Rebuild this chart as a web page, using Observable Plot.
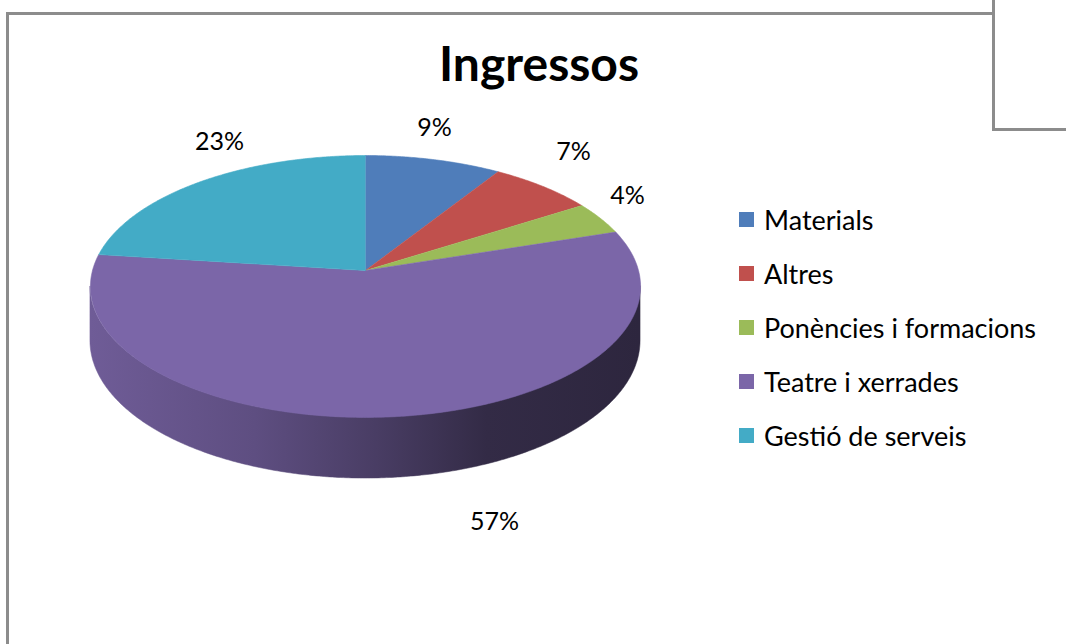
<!DOCTYPE html>
<html>
<head>
<meta charset="utf-8">
<script src="https://cdn.jsdelivr.net/npm/d3@7"></script>
<script src="https://cdn.jsdelivr.net/npm/@observablehq/plot@0.6"></script>
<style>
  body { margin: 0; background: #fff; }
  #wrap { position: relative; width: 1066px; height: 644px; overflow: hidden; font-family: Lato, "Noto Sans", sans-serif; }
  .box { position: absolute; border: 3px solid #8c8c8c; background: #fff; box-sizing: border-box; }
  #chart { position: absolute; left: 0; top: 0; }
  #title { position: absolute; left: 0; width: 1078px; top: 39px; text-align: center; font-weight: 700; font-size: 48px; line-height: 1; color: #000; }
  .leg { position: absolute; left: 739px; height: 40px; display: flex; align-items: center; font-size: 27px; color: #000; white-space: nowrap; }
  .sw { width: 15px; height: 15px; margin-right: 10px; flex: none; }
</style>
</head>
<body>
<div id="wrap">
  <div class="box" style="left:6px;top:12px;width:1300px;height:900px;"></div>
  <div id="chart"></div>
  <div class="box" style="left:992px;top:-20px;width:200px;height:151px;"></div>
  <div id="title">Ingressos</div>
  <div id="legend"></div>
</div>
<script>
// ---- data ----
const names = ["Materials", "Altres", "Ponències i formacions", "Teatre i xerrades", "Gestió de serveis"];
const values = [9, 7, 4, 57, 23];
const colors = ["#4f7dba", "#c0504d", "#9bbb59", "#7b66a8", "#43abc6"];
const pctLabels = ["9%", "7%", "4%", "57%", "23%"];
// label anchor points in pie units (projected), as placed by the original layout
const labelX = [0.253, 0.762, 0.960, 0.473, -0.535];
const labelY = [-1.101, -0.922, -0.574, 1.953, -1.000];

// ---- 3D pie geometry (perspective tilt) ----
const p = 0.122;      // perspective factor
const D = 0.416;      // thickness of the pie
const proj = (u, v) => { const k = 1 - p * v; return {X: u / k, Y: v / k, Yb: (v + D) / k}; };

const total = d3.sum(values);
let acc = 0;
const slices = values.map((val, i) => {
  const a0 = acc / total * 360; acc += val; const a1 = acc / total * 360;
  return {i, name: names[i], a0, a1};
});

const topPts = [];
for (const s of slices) {
  topPts.push({name: s.name, ...proj(0, 0)});
  const n = Math.max(2, Math.ceil((s.a1 - s.a0) / 0.5));
  for (let j = 0; j <= n; j++) {
    const t = (s.a0 + (s.a1 - s.a0) * j / n) * Math.PI / 180;
    topPts.push({name: s.name, ...proj(Math.sin(t), -Math.cos(t))});
  }
}

const tR = Math.acos(-p) * 180 / Math.PI, tL = 360 - tR;
const wallMarks = [];
for (const s of slices) {
  const a0 = Math.max(s.a0, tR), a1 = Math.min(s.a1, tL);
  if (a1 <= a0) continue;
  const pts = [];
  const n = Math.max(2, Math.ceil((a1 - a0) / 0.5));
  for (let j = 0; j <= n; j++) {
    const t = (a0 + (a1 - a0) * j / n) * Math.PI / 180;
    pts.push({name: s.name, ...proj(Math.sin(t), -Math.cos(t))});
  }
  wallMarks.push(Plot.areaY(pts, {x: "X", y1: "Y", y2: "Yb", fill: `url(#wall-${s.i})`, stroke: `url(#wall-${s.i})`, strokeWidth: 0.5}));
}

const labels = pctLabels.map((t, i) => ({t, X: labelX[i], Y: labelY[i]}));

const svg = Plot.plot({
  width: 1066, height: 644, margin: 0,
  style: {background: "transparent"},
  x: {domain: [-1, 1], range: [92, 638], axis: null},
  y: {domain: [-1, 1], range: [141, 399], axis: null},
  color: {domain: names, range: colors},
  marks: [
    ...wallMarks,
    Plot.line(topPts, {x: "X", y: "Y", z: "name", fill: "name", stroke: "name", strokeWidth: 0.6, curve: "linear"}),
    Plot.text(labels, {x: "X", y: "Y", text: "t", fontSize: 25, fontFamily: "Lato, sans-serif", fill: "#000"})
  ]
});

// wall shading gradients (left lighter, right darker)
const defs = d3.select(svg).insert("defs", ":first-child");
const stops = [[0, 0.3], [0.3, 0.75], [0.52, 1.45], [0.72, 2.45], [1, 2.8]];
slices.forEach(s => {
  const g = defs.append("linearGradient").attr("id", `wall-${s.i}`).attr("x1", 0).attr("x2", 1).attr("y1", 0).attr("y2", 0);
  stops.forEach(([o, k]) => g.append("stop").attr("offset", o).attr("stop-color", d3.color(colors[s.i]).darker(k).formatHex()));
});
document.getElementById("chart").appendChild(svg);

// legend
const leg = d3.select("#legend");
names.forEach((n, i) => {
  const row = leg.append("div").attr("class", "leg").style("top", (219 + 54 * i - 20) + "px");
  row.append("div").attr("class", "sw").style("background", colors[i]);
  row.append("span").text(n);
});
</script>
</body>
</html>
